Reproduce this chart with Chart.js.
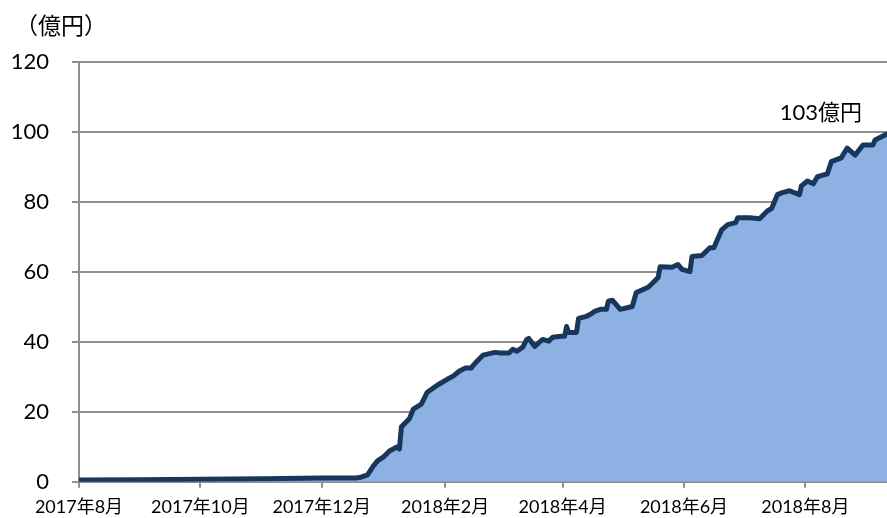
<!DOCTYPE html>
<html>
<head>
<meta charset="utf-8">
<script src="https://cdn.jsdelivr.net/npm/chart.js@4/dist/chart.umd.min.js"></script>
<style>
  html, body { margin: 0; padding: 0; background: #fff; }
  #wrap { width: 887px; height: 518px; position: relative; }
</style>
</head>
<body>
<div id="wrap"><canvas id="c"></canvas></div>
<script>
const dates = [
  '2017-08-01','2017-09-01','2017-10-01','2017-11-01','2017-12-01','2017-12-18','2017-12-20','2017-12-24',
  '2017-12-27','2017-12-29','2018-01-01','2018-01-04','2018-01-08','2018-01-09','2018-01-10','2018-01-14',
  '2018-01-16','2018-01-20','2018-01-23','2018-01-28','2018-02-02','2018-02-05','2018-02-08','2018-02-11',
  '2018-02-14','2018-02-16','2018-02-20','2018-02-26','2018-03-01','2018-03-05','2018-03-07','2018-03-09',
  '2018-03-12','2018-03-14','2018-03-15','2018-03-18','2018-03-22','2018-03-25','2018-03-27','2018-03-31',
  '2018-04-02','2018-04-03','2018-04-04','2018-04-08','2018-04-09','2018-04-13','2018-04-15','2018-04-17',
  '2018-04-20','2018-04-23','2018-04-24','2018-04-26','2018-04-30','2018-05-06','2018-05-08','2018-05-14',
  '2018-05-16','2018-05-19','2018-05-20','2018-05-26','2018-05-29','2018-05-31','2018-06-04','2018-06-05',
  '2018-06-10','2018-06-14','2018-06-16','2018-06-20','2018-06-23','2018-06-27','2018-06-28','2018-07-04',
  '2018-07-09','2018-07-13','2018-07-15','2018-07-18','2018-07-20','2018-07-24','2018-07-29','2018-07-30',
  '2018-08-02','2018-08-05','2018-08-07','2018-08-12','2018-08-14','2018-08-19','2018-08-22','2018-08-26',
  '2018-08-30','2018-09-04','2018-09-05','2018-09-11'
];
const values = [
  0.5, 0.6, 0.7, 0.9, 1.1, 1.1, 1.2, 2.0,
  4.6, 6.0, 7.1, 8.8, 10.0, 9.4, 15.7, 18.0,
  20.8, 22.2, 25.6, 27.6, 29.3, 30.2, 31.6, 32.5,
  32.5, 33.9, 36.2, 37.0, 36.8, 36.8, 37.9, 37.3,
  38.5, 40.7, 41.0, 38.7, 40.7, 40.2, 41.3, 41.6,
  41.6, 44.4, 42.7, 42.7, 46.7, 47.3, 47.9, 48.7,
  49.3, 49.3, 51.6, 51.9, 49.3, 50.1, 54.1, 55.6,
  56.7, 58.4, 61.5, 61.3, 62.1, 60.7, 60.1, 64.4,
  64.7, 66.9, 66.9, 72.1, 73.5, 74.1, 75.5, 75.5,
  75.2, 77.5, 78.1, 82.1, 82.6, 83.2, 82.1, 84.6,
  86.0, 85.2, 87.2, 88.0, 91.5, 92.6, 95.4, 93.4,
  96.3, 96.3, 97.7, 99.4
];
const tickDates = ['2017-08-01','2017-10-01','2017-12-01','2018-02-01','2018-04-01','2018-06-01','2018-08-01'];
const tickLabels = ['2017年8月','2017年10月','2017年12月','2018年2月','2018年4月','2018年6月','2018年8月'];
const axisEndDate = '2018-09-11';
const yTitle = '（億円）';
const endLabel = '103億円';

const origin = Date.UTC(2017, 7, 1);
function dayOf(s) {
  const p = s.split('-').map(Number);
  return Math.round((Date.UTC(p[0], p[1] - 1, p[2]) - origin) / 86400000);
}
const points = dates.map((d, i) => ({ x: dayOf(d), y: values[i] }));
const tickDays = tickDates.map(dayOf);

const FONT = 'Lato, "Noto Sans CJK JP", sans-serif';
const GRID = '#8f8f8f';

const textPlugin = {
  id: 'texts',
  afterDatasetsDraw(chart) {
    const ctx = chart.ctx;
    ctx.save();
    ctx.fillStyle = '#000';
    ctx.textBaseline = 'middle';
    ctx.font = '23px ' + FONT;
    ctx.textAlign = 'left';
    ctx.fillText(yTitle, 15, 27);
    const ys = chart.scales.y;
    ctx.font = '22px ' + FONT;
    ctx.textAlign = 'right';
    ctx.fillText(endLabel, chart.chartArea.right - 25, ys.getPixelForValue(105.5));
    ctx.restore();
  }
};

new Chart(document.getElementById('c'), {
  type: 'line',
  data: {
    datasets: [{
      data: points,
      fill: 'origin',
      backgroundColor: '#8db1e3',
      borderColor: '#17375e',
      borderWidth: 5,
      borderJoinStyle: 'round',
      borderCapStyle: 'round',
      pointRadius: 0,
      tension: 0
    }]
  },
  options: {
    responsive: true,
    maintainAspectRatio: false,
    animation: false,
    events: [],
    layout: { padding: { top: 62, right: 0, left: 0, bottom: 0 } },
    plugins: { legend: { display: false }, tooltip: { enabled: false }, title: { display: false } },
    scales: {
      x: {
        type: 'linear',
        min: 0,
        max: dayOf(axisEndDate),
        z: 1,
        afterBuildTicks(axis) { axis.ticks = tickDays.map(v => ({ value: v })); },
        afterFit(scale) { scale.height = 35; },
        ticks: {
          autoSkip: false,
          maxRotation: 0,
          padding: 9,
          color: '#000',
          font: { family: FONT, size: 18 },
          callback(v) { const i = tickDays.indexOf(v); return i >= 0 ? tickLabels[i] : ''; }
        },
        grid: { drawOnChartArea: false, drawTicks: true, tickLength: 6, color: GRID, lineWidth: 2 },
        border: { display: true, color: GRID, width: 2 }
      },
      y: {
        min: 0,
        max: 120,
        afterFit(scale) { scale.width = 79; },
        ticks: {
          stepSize: 20,
          padding: 23,
          color: '#000',
          font: { family: FONT, size: 22 }
        },
        grid: { color: GRID, lineWidth: 2, tickLength: 7, drawTicks: true },
        border: { display: true, color: GRID, width: 2 }
      }
    }
  },
  plugins: [textPlugin]
});
</script>
</body>
</html>
